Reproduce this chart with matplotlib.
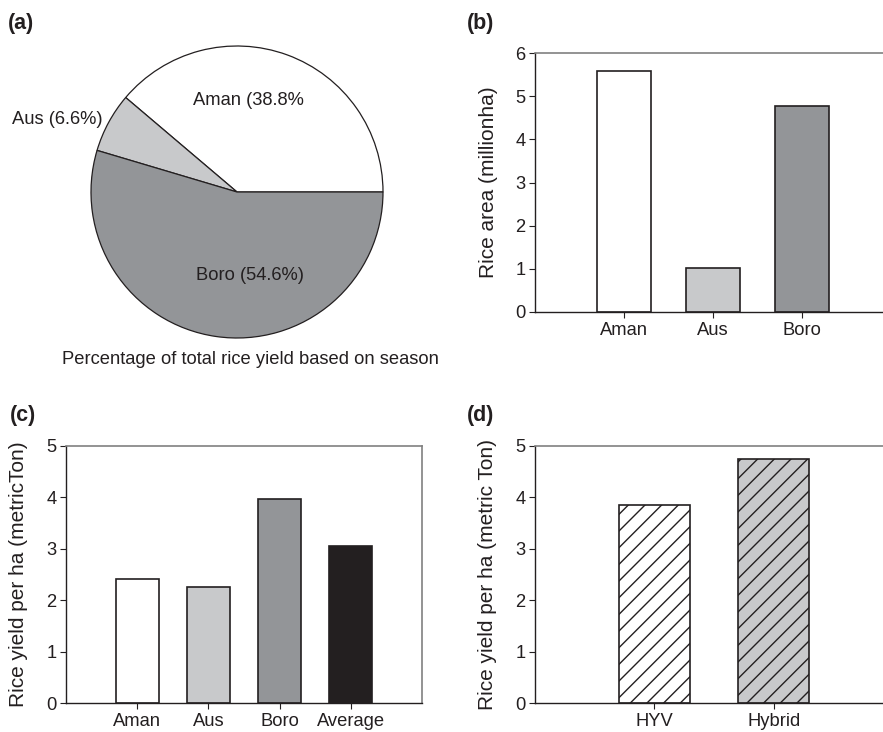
import matplotlib
matplotlib.use("Agg")
import matplotlib.pyplot as plt

plt.rcParams['font.family'] = ['Liberation Sans', 'DejaVu Sans']
plt.rcParams['hatch.linewidth'] = 1.0
plt.rcParams['hatch.color'] = '#231f20'

# ---- data ----
pie_labels = ["Aman (38.8%", "Aus (6.6%)", "Boro (54.6%)"]
pie_values = [38.8, 6.6, 54.6]
pie_colors = ["#ffffff", "#c8c9cb", "#939598"]
pie_caption = "Percentage of total rice yield based on season"

area_cats = ["Aman", "Aus", "Boro"]
area_vals = [5.58, 1.01, 4.77]
area_colors = ["#ffffff", "#c8c9cb", "#939598"]

yield_cats = ["Aman", "Aus", "Boro", "Average"]
yield_vals = [2.41, 2.25, 3.97, 3.05]
yield_colors = ["#ffffff", "#c8c9cb", "#939598", "#231f20"]

var_cats = ["HYV", "Hybrid"]
var_vals = [3.86, 4.75]
var_colors = ["#ffffff", "#c8c9cb"]

W, H = 883, 732
fig = plt.figure(figsize=(W / 100, H / 100), dpi=100)

def ax_px(l, t, r, b):
    return fig.add_axes([l / W, 1 - b / H, (r - l) / W, (b - t) / H])

FS = 13.2
YFS = 15
TXT = "#231f20"

def style_bar_axes(ax, ymax, ylabel, label_x_px):
    ax.set_ylim(0, ymax)
    ax.set_yticks(range(0, ymax + 1))
    for s in ["left", "bottom"]:
        ax.spines[s].set_color("#231f20")
        ax.spines[s].set_linewidth(1.0)
    for s in ["top", "right"]:
        ax.spines[s].set_color("#808080")
        ax.spines[s].set_linewidth(1.2)
    ax.tick_params(direction="out", length=4, width=0.8, color="#231f20",
                   labelsize=FS, labelcolor=TXT, pad=3)
    ax.set_ylabel(ylabel, fontsize=YFS, color=TXT)
    bb = ax.get_position()
    ax.yaxis.set_label_coords((label_x_px / W - bb.x0) / bb.width, 0.5)

# ---- (a) pie ----
cx, cy, r = 237, 192, 146
axa = ax_px(cx - r, cy - r, cx + r, cy + r)
axa.pie(pie_values, colors=pie_colors, startangle=0, counterclock=True,
        wedgeprops=dict(edgecolor="#231f20", linewidth=0.9))
axa.set_xlim(-1, 1)
axa.set_ylim(-1, 1)
axa.set_aspect("auto")
axa.axis("off")
axa.text(0.08, 0.63, pie_labels[0], ha="center", va="center", fontsize=FS, color=TXT)
axa.text(-1.23, 0.50, pie_labels[1], ha="center", va="center", fontsize=FS, color=TXT)
axa.text(0.09, -0.57, pie_labels[2], ha="center", va="center", fontsize=FS, color=TXT)
fig.text(250 / W, 1 - 360 / H, pie_caption, ha="center", va="center", fontsize=FS, color=TXT)

# ---- (b) rice area ----
axb = ax_px(535, 53, 891, 312)
axb.bar(range(len(area_cats)), area_vals, width=0.6, color=area_colors,
        edgecolor="#231f20", linewidth=1.2)
axb.set_xlim(-1, 3)
axb.set_xticks(range(len(area_cats)))
axb.set_xticklabels(area_cats)
style_bar_axes(axb, 6, "Rice area (millionha)", 498)

# ---- (c) yield per season ----
axc = ax_px(66, 446, 422, 703)
axc.bar(range(len(yield_cats)), yield_vals, width=0.6, color=yield_colors,
        edgecolor="#231f20", linewidth=1.2)
axc.set_xlim(-1, 4)
axc.set_xticks(range(len(yield_cats)))
axc.set_xticklabels(yield_cats)
style_bar_axes(axc, 5, "Rice yield per ha (metricTon)", 28)

# ---- (d) yield per variety ----
axd = ax_px(535, 446, 893, 703)
axd.bar(range(len(var_cats)), var_vals, width=0.6, color=var_colors,
        edgecolor="#231f20", linewidth=1.2, hatch="//")
axd.set_xlim(-1, 2)
axd.set_xticks(range(len(var_cats)))
axd.set_xticklabels(var_cats)
style_bar_axes(axd, 5, "Rice yield per ha (metric Ton)", 497)

# panel labels
for lab, x, y in [("(a)", 8, 24), ("(b)", 467, 24), ("(c)", 10, 416), ("(d)", 467, 416)]:
    fig.text(x / W, 1 - y / H, lab, ha="left", va="center", fontsize=15.5,
             fontweight="bold", color=TXT)

fig.savefig("out.png", dpi=100)
